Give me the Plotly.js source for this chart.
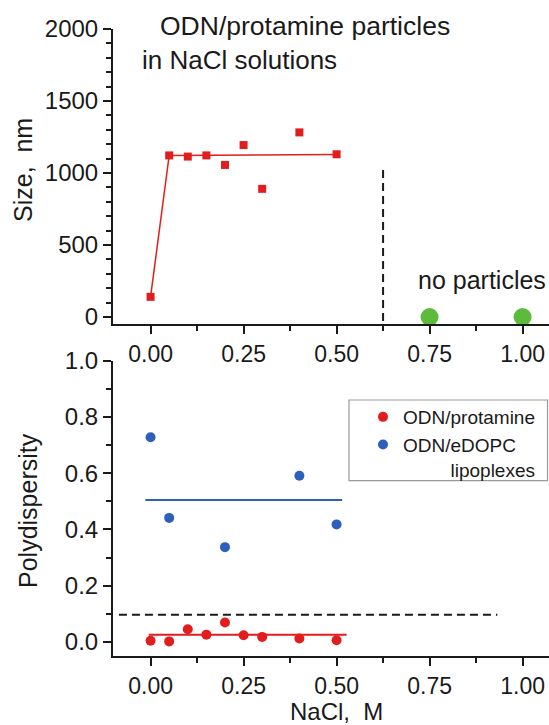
<!DOCTYPE html>
<html>
<head>
<meta charset="utf-8">
<script src="https://cdn.plot.ly/plotly-3.0.1.min.js"></script>
<style>html,body{margin:0;padding:0;background:#fff;}#chart{width:549px;height:725px;}</style>
</head>
<body>
<div id="chart"></div>
<script>
// ---- data ----
const nacl = [0, 0.05, 0.1, 0.15, 0.2, 0.25, 0.3, 0.4, 0.5];
const sizeProtamine = [140, 1122, 1114, 1122, 1056, 1194, 890, 1282, 1130];
const sizeFitX = [0, 0.05, 0.5];
const sizeFitY = [140, 1122, 1128];
const noParticleX = [0.75, 1.0];
const noParticleY = [0, 0];
const cutoffX = [0.625, 0.625];
const cutoffY = [1021, -48];

const pdiProtamine = [0.004, 0.002, 0.045, 0.026, 0.069, 0.024, 0.018, 0.012, 0.006];
const lipoX = [0, 0.05, 0.2, 0.4, 0.5];
const pdiLipoplex = [0.728, 0.441, 0.337, 0.591, 0.418];
const protFitX = [-0.005, 0.527];
const protFitY = [0.026, 0.026];
const lipoFitX = [-0.014, 0.515];
const lipoFitY = [0.505, 0.505];
const thresholdX = [-0.085, 0.932];
const thresholdY = [0.097, 0.097];

const sizeTicks = [0, 500, 1000, 1500, 2000];
const pdiTicks = [0, 0.2, 0.4, 0.6, 0.8, 1.0];
const naclTicks = [0, 0.25, 0.5, 0.75, 1.0];

const RED = '#e21d1d', BLUE = '#2e5fbd', GREEN = '#5cbb3a', INK = '#1a1a1a';
const FONT = 'Liberation Sans, Arial, sans-serif';

const traces = [
  {x: sizeFitX, y: sizeFitY, xaxis: 'x', yaxis: 'y', mode: 'lines',
   line: {color: RED, width: 1.5}, showlegend: false, hoverinfo: 'skip'},
  {x: nacl, y: sizeProtamine, xaxis: 'x', yaxis: 'y', mode: 'markers',
   marker: {symbol: 'square', size: 8, color: RED}, showlegend: false},
  {x: cutoffX, y: cutoffY, xaxis: 'x', yaxis: 'y', mode: 'lines',
   line: {color: INK, width: 2, dash: '8px,5px'}, showlegend: false, hoverinfo: 'skip'},
  {x: noParticleX, y: noParticleY, xaxis: 'x', yaxis: 'y', mode: 'markers',
   marker: {size: 18, color: GREEN}, showlegend: false, cliponaxis: false},

  {x: thresholdX, y: thresholdY, xaxis: 'x2', yaxis: 'y2', mode: 'lines',
   line: {color: INK, width: 2, dash: '8px,5px'}, showlegend: false, hoverinfo: 'skip'},
  {x: protFitX, y: protFitY, xaxis: 'x2', yaxis: 'y2', mode: 'lines',
   line: {color: RED, width: 2}, showlegend: false, hoverinfo: 'skip'},
  {x: lipoFitX, y: lipoFitY, xaxis: 'x2', yaxis: 'y2', mode: 'lines',
   line: {color: BLUE, width: 2}, showlegend: false, hoverinfo: 'skip'},
  {x: nacl, y: pdiProtamine, xaxis: 'x2', yaxis: 'y2', mode: 'markers', name: 'ODN/protamine',
   marker: {size: 10, color: RED}, cliponaxis: false},
  {x: lipoX, y: pdiLipoplex, xaxis: 'x2', yaxis: 'y2', mode: 'markers',
   name: 'ODN/eDOPC<br>' + '\u00a0'.repeat(9) + 'lipoplexes',
   marker: {size: 10, color: BLUE}, cliponaxis: false}
];

const axisCommon = {
  showline: true, linecolor: INK, linewidth: 2, mirror: false,
  showgrid: false, zeroline: false,
  ticks: 'outside', ticklen: 8, tickwidth: 2, tickcolor: INK,
  tickfont: {family: FONT, size: 24, color: INK}
};
const xTickFont = {family: FONT, size: 23, color: INK};

const L = 113, T = 29, B = 69, W = 549, H = 725;
const PW = W - L, PH = H - T - B;
const px = v => (v - L) / PW;
const py = v => (H - B - v) / PH;

const layout = {
  width: W, height: H,
  margin: {l: L, r: 0, t: T, b: B, pad: 0},
  paper_bgcolor: '#fff', plot_bgcolor: '#fff',
  font: {family: FONT, color: INK},
  showlegend: true,
  legend: {
    x: px(363), y: py(398), xanchor: 'left', yanchor: 'top',
    bgcolor: 'rgba(0,0,0,0)', borderwidth: 0,
    font: {family: FONT, size: 19, color: INK}, valign: 'top'
  },
  xaxis: Object.assign({}, axisCommon, {
    anchor: 'y', domain: [0, 1], range: [-0.101, 1.071],
    tickvals: naclTicks, tickformat: '.2f', tickfont: xTickFont,
    minor: {dtick: 0.125, tick0: 0, ticks: 'outside', ticklen: 5, tickwidth: 2, tickcolor: INK}
  }),
  yaxis: Object.assign({}, axisCommon, {
    anchor: 'x', domain: [py(324), 1], range: [-48.6, 2000],
    tickvals: sizeTicks,
    minor: {dtick: 100, tick0: 0, ticks: 'outside', ticklen: 5, tickwidth: 2, tickcolor: INK}
  }),
  xaxis2: Object.assign({}, axisCommon, {
    anchor: 'y2', domain: [0, 1], range: [-0.101, 1.071],
    tickvals: naclTicks, tickformat: '.2f', tickfont: xTickFont,
    minor: {dtick: 0.125, tick0: 0, ticks: 'outside', ticklen: 5, tickwidth: 2, tickcolor: INK}
  }),
  yaxis2: Object.assign({}, axisCommon, {
    anchor: 'x2', domain: [0, py(360.7)], range: [-0.05, 1.0],
    tickvals: pdiTicks, tickformat: '.1f',
    minor: {dtick: 0.1, tick0: 0, ticks: 'outside', ticklen: 5, tickwidth: 2, tickcolor: INK}
  }),
  shapes: [
    {type: 'rect', xref: 'paper', yref: 'paper',
     x0: px(349), x1: px(547.5), y0: py(480.7), y1: py(400),
     line: {color: '#9a9a9a', width: 1.2}, fillcolor: 'rgba(0,0,0,0)'}
  ],
  annotations: [
    {text: 'ODN/protamine particles', xref: 'paper', yref: 'paper',
     x: px(158), y: py(26), xanchor: 'left', yanchor: 'middle', showarrow: false,
     font: {family: FONT, size: 26.5, color: INK}},
    {text: 'in NaCl solutions', xref: 'paper', yref: 'paper',
     x: px(140), y: py(60), xanchor: 'left', yanchor: 'middle', showarrow: false,
     font: {family: FONT, size: 26, color: INK}},
    {text: 'no particles', xref: 'paper', yref: 'paper',
     x: px(416), y: py(280), xanchor: 'left', yanchor: 'middle', showarrow: false,
     font: {family: FONT, size: 25, color: INK}},
    {text: 'Size,  nm', xref: 'paper', yref: 'paper', textangle: -90,
     x: px(23), y: py(170), xanchor: 'center', yanchor: 'middle', showarrow: false,
     font: {family: FONT, size: 25, color: INK}},
    {text: 'Polydispersity', xref: 'paper', yref: 'paper', textangle: -90,
     x: px(28), y: py(511), xanchor: 'center', yanchor: 'middle', showarrow: false,
     font: {family: FONT, size: 25, color: INK}},
    {text: 'NaCl,  M', xref: 'paper', yref: 'paper', borderpad: 0,
     x: px(336), y: py(711), xanchor: 'center', yanchor: 'middle', showarrow: false,
     font: {family: FONT, size: 24, color: INK}}
  ]
};

Plotly.newPlot('chart', traces, layout, {staticPlot: true, displayModeBar: false});
</script>
</body>
</html>
